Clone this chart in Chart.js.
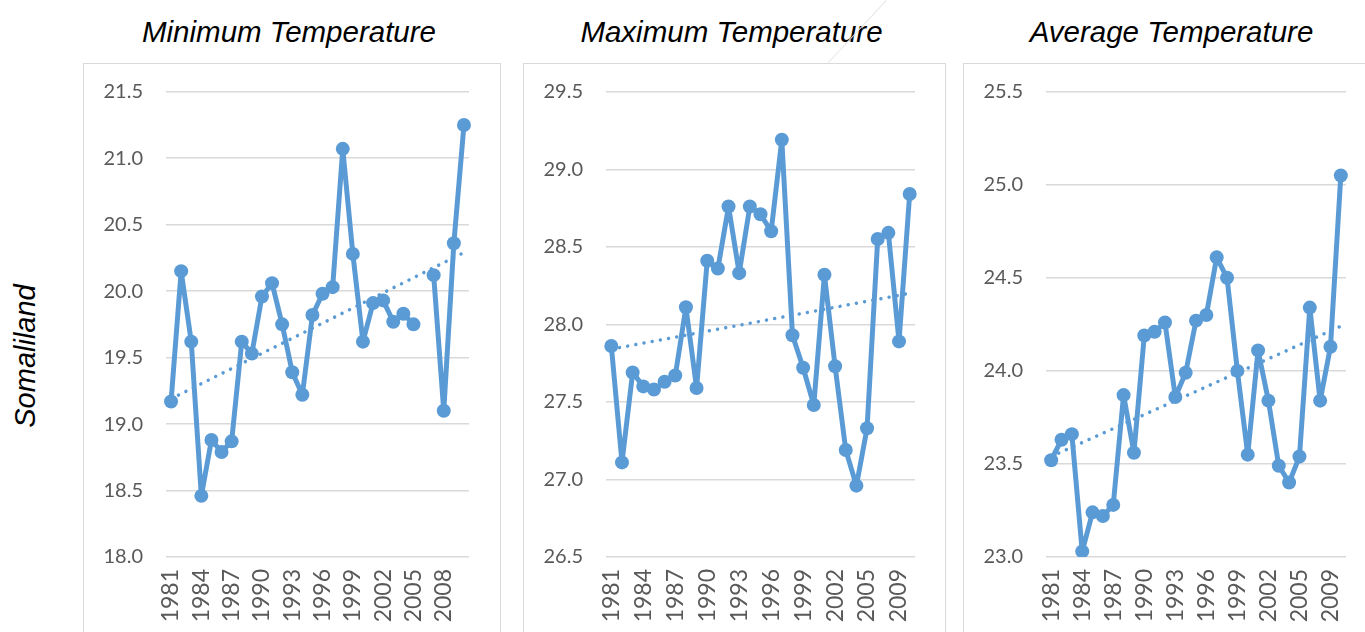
<!DOCTYPE html>
<html>
<head>
<meta charset="utf-8">
<script src="https://cdn.jsdelivr.net/npm/chart.js@4.4.1/dist/chart.umd.min.js"></script>
<style>
  html, body { margin: 0; padding: 0; background: #fff; }
  body { width: 1365px; height: 632px; overflow: hidden; position: relative; }
  .box { position: absolute; top: 63px; height: 620px; border: 1px solid #d9d9d9; box-sizing: border-box; }
  .title { position: absolute; top: 17px; font: italic 29.5px "Liberation Sans", Arial, sans-serif; line-height: 29px; color: #000; text-align: center; white-space: nowrap; }
  .side { position: absolute; left: 25px; top: 356px; transform: translate(-50%, -50%) rotate(-90deg); font: italic 29px "Liberation Sans", Arial, sans-serif; line-height: 29px; white-space: nowrap; color: #000; }
  canvas { position: absolute; top: 63px; }
  .streak { position: absolute; top: 0; width: 1px; height: 86px; background: #e6e6e6; transform-origin: 0 0; }
</style>
</head>
<body>

<div class="side">Somaliland</div>

<div class="box" style="left:83px;width:418px"></div>
<div class="box" style="left:523px;width:423px"></div>
<div class="box" style="left:963px;width:423px"></div>

<div class="title" style="left:80px;width:418px">Minimum Temperature</div>
<div class="title" style="left:520px;width:423px">Maximum Temperature</div>
<div class="title" style="left:960px;width:423px">Average Temperature</div>

<div class="streak" style="left:886px;transform:rotate(43deg)"></div>

<canvas id="chart-min" style="left:83px" width="417" height="569"></canvas>
<canvas id="chart-max" style="left:523px" width="422" height="569"></canvas>
<canvas id="chart-avg" style="left:963px" width="422" height="569"></canvas>

<script>
// years - min temp series has 2006 as an empty slot, the other two skip 2006
const yearsMin = ['1981','1982','1983','1984','1985','1986','1987','1988','1989','1990',
  '1991','1992','1993','1994','1995','1996','1997','1998','1999','2000',
  '2001','2002','2003','2004','2005','2006','2007','2008','2009','2010'];
const yearsMaxAvg = ['1981','1982','1983','1984','1985','1986','1987','1988','1989','1990',
  '1991','1992','1993','1994','1995','1996','1997','1998','1999','2000',
  '2001','2002','2003','2004','2005','2007','2008','2009','2010'];

const minTemp = [19.17, 20.15, 19.62, 18.46, 18.88, 18.79, 18.87, 19.62, 19.53, 19.96,
  20.06, 19.75, 19.39, 19.22, 19.82, 19.98, 20.03, 21.07, 20.28, 19.62,
  19.91, 19.93, 19.77, 19.83, 19.75, null, 20.12, 19.10, 20.36, 21.25];
const maxTemp = [27.86, 27.11, 27.69, 27.60, 27.58, 27.63, 27.67, 28.11, 27.59, 28.41,
  28.36, 28.76, 28.33, 28.76, 28.71, 28.60, 29.19, 27.93, 27.72, 27.48,
  28.32, 27.73, 27.19, 26.96, 27.33, 28.55, 28.59, 27.89, 28.84];
const avgTemp = [23.52, 23.63, 23.66, 23.03, 23.24, 23.22, 23.28, 23.87, 23.56, 24.19,
  24.21, 24.26, 23.86, 23.99, 24.27, 24.30, 24.61, 24.50, 24.00, 23.55,
  24.11, 23.84, 23.49, 23.40, 23.54, 24.34, 23.84, 24.13, 25.05];

// linear trend, start and end values
const minTrend = [19.19, 20.29];
const maxTrend = [27.84, 28.20];
const avgTrend = [23.54, 24.24];

// y tick labels
const minTicks = [18.0, 18.5, 19.0, 19.5, 20.0, 20.5, 21.0, 21.5];
const maxTicks = [26.5, 27.0, 27.5, 28.0, 28.5, 29.0, 29.5];
const avgTicks = [23.0, 23.5, 24.0, 24.5, 25.0, 25.5];

const blue = '#5b9bd5';
const fontFamily = 'Lato, "Liberation Sans", sans-serif';

function trendData(len, ends) {
  const arr = new Array(len).fill(null);
  arr[0] = ends[0];
  arr[len - 1] = ends[1];
  return arr;
}

// drop the label-based padding so the layout padding alone places the plot area
function noScalePad(s) {
  s.paddingTop = 0;
  s.paddingBottom = 0;
  s.paddingLeft = 0;
  s.paddingRight = 0;
}

function makeChart(id, labels, values, trend, ticks, rightPad) {
  const ctx = document.getElementById(id).getContext('2d');
  return new Chart(ctx, {
    type: 'line',
    data: {
      labels: labels,
      datasets: [
        {
          data: values,
          borderColor: blue,
          backgroundColor: blue,
          borderWidth: 5,
          borderJoinStyle: 'round',
          pointRadius: 7,
          pointBackgroundColor: blue,
          pointBorderColor: blue,
          pointBorderWidth: 0,
          tension: 0,
          spanGaps: false,
          order: 1
        },
        {
          data: trendData(labels.length, trend),
          borderColor: blue,
          borderWidth: 3.5,
          borderDash: [0.01, 8.3],
          borderCapStyle: 'round',
          pointRadius: 0,
          spanGaps: true,
          fill: false,
          order: 2
        }
      ]
    },
    options: {
      responsive: false,
      animation: false,
      events: [],
      layout: { padding: { left: 0, right: rightPad, top: 28.7, bottom: 0 } },
      plugins: { legend: { display: false }, tooltip: { enabled: false } },
      scales: {
        x: {
          offset: true,
          grid: { display: false, drawTicks: false },
          border: { display: false },
          ticks: {
            autoSkip: false,
            minRotation: 90,
            maxRotation: 90,
            padding: 12,
            color: '#595959',
            font: { family: fontFamily, size: 23 },
            callback: function (val, i) { return i % 3 === 0 ? this.getLabelForValue(val) : ''; }
          },
          afterFit: s => { s.height = 75; noScalePad(s); }
        },
        y: {
          min: ticks[0],
          max: ticks[ticks.length - 1],
          grid: { color: '#d9d9d9', lineWidth: 1.4, drawTicks: false },
          border: { display: false },
          ticks: {
            padding: 23,
            color: '#595959',
            font: { family: fontFamily, size: 20 },
            callback: v => Number(v).toFixed(1)
          },
          afterBuildTicks: s => { s.ticks = ticks.map(v => ({ value: v })); },
          afterFit: s => { s.width = 83; noScalePad(s); }
        }
      }
    }
  });
}

makeChart('chart-min', yearsMin, minTemp, minTrend, minTicks, 31);
makeChart('chart-max', yearsMaxAvg, maxTemp, maxTrend, maxTicks, 30);
makeChart('chart-avg', yearsMaxAvg, avgTemp, avgTrend, avgTicks, 39);
</script>
</body>
</html>
